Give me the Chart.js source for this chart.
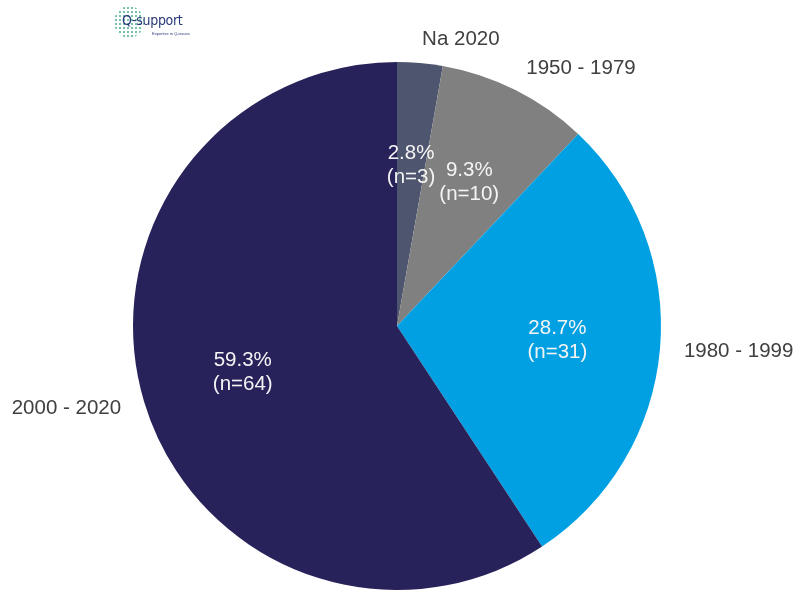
<!DOCTYPE html>
<html>
<head>
<meta charset="utf-8">
<script src="https://cdn.jsdelivr.net/npm/chart.js@4"></script>
<style>
    html, body { margin: 0; padding: 0; background: #fff; }
    #wrap { position: relative; width: 798px; height: 592px; }
    #logo { position: absolute; left: 114px; top: 4px; width: 90px; height: 36px; }
    #logoDots {
        position: absolute; left: 0; top: 2px; width: 30px; height: 32px; border-radius: 50%;
        background: radial-gradient(circle, #5fb8a0 1.2px, transparent 1.6px) 0 0 / 4px 4px;
        opacity: 0.85;
    }
    #logoText {
        position: absolute; left: 8px; top: 8px; font-family: "Liberation Sans Narrow", "DejaVu Sans Condensed", sans-serif;
        font-size: 14px; color: #2a3a7a; letter-spacing: -0.3px;
    }
    #logoSub {
        position: absolute; left: 38px; top: 27px; font-family: "Liberation Sans", sans-serif;
        font-size: 4px; color: #2a3a7a;
    }
</style>
</head>
<body>
<div id="wrap">
    <canvas id="pieChart" width="798" height="592"></canvas>
    <div id="logo">
        <div id="logoDots"></div>
        <div id="logoText">Q-support</div>
        <div id="logoSub">Expertise in Q-issues</div>
    </div>
</div>
<script>
// DATA
const categories = ["Na 2020", "1950 - 1979", "1980 - 1999", "2000 - 2020"];
const counts = [3, 10, 31, 64];
const percentLabels = ["2.8%", "9.3%", "28.7%", "59.3%"];
const sliceColors = ["#4e556e", "#808080", "#00a0e3", "#28225a"];

// LABEL PLUGIN
const pieLabels = {
    id: "pieLabels",
    afterDatasetsDraw(chart) {
        const ctx = chart.ctx;
        const arcs = chart.getDatasetMeta(0).data;
        ctx.save();
        ctx.font = "20.5px 'Liberation Sans', Arial, sans-serif";
        ctx.textBaseline = "middle";
        arcs.forEach((arc, i) => {
            const mid = (arc.startAngle + arc.endAngle) / 2;
            const r = arc.outerRadius;
            const cos = Math.cos(mid), sin = Math.sin(mid);

            // inside value labels
            const ix = arc.x + cos * r * 0.61;
            const iy = arc.y + sin * r * 0.61;
            ctx.fillStyle = "#f4f4f4";
            ctx.textAlign = "center";
            ctx.fillText(percentLabels[i], ix, iy - 12);
            ctx.fillText("(n=" + counts[i] + ")", ix, iy + 12);

            // outside category labels
            const ox = arc.x + cos * (r + 24);
            const oy = arc.y + sin * (r + 24);
            ctx.fillStyle = "#404040";
            ctx.textAlign = cos >= 0 ? "left" : "right";
            ctx.fillText(categories[i], ox, oy);
        });
        ctx.restore();
    }
};

const ctx = document.getElementById("pieChart").getContext("2d");
new Chart(ctx, {
    type: "pie",
    data: {
        labels: categories,
        datasets: [{
            data: counts,
            backgroundColor: sliceColors,
            borderWidth: 0,
            hoverOffset: 0
        }]
    },
    options: {
        responsive: false,
        animation: false,
        layout: { padding: { top: 62, bottom: 2, left: 0, right: 4 } },
        plugins: {
            legend: { display: false },
            tooltip: { enabled: false }
        }
    },
    plugins: [pieLabels]
});
</script>
</body>
</html>
